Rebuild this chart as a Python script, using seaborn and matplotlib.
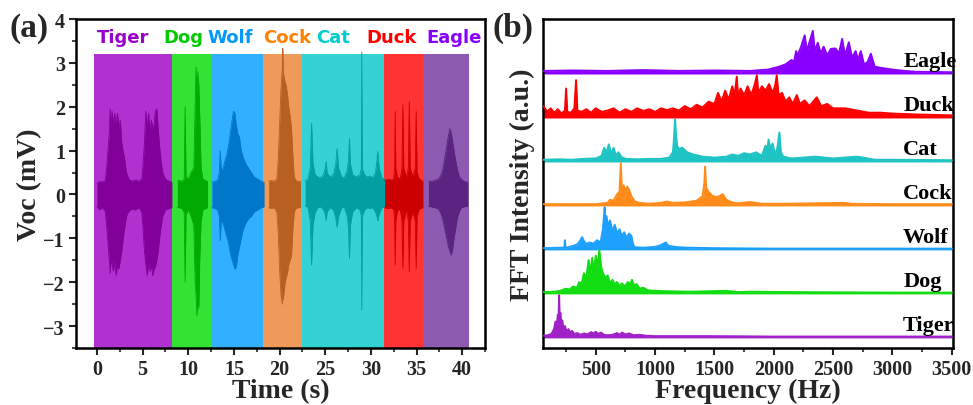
import matplotlib
matplotlib.use("Agg")
import matplotlib.pyplot as plt
from matplotlib.ticker import MultipleLocator, NullLocator
import seaborn as sns

# ---------------- panel (a): voltage waveforms ----------------
animals = ["Tiger", "Dog", "Wolf", "Cock", "Cat", "Duck", "Eagle"]

band_start = [-0.3, 8.25, 12.5, 18.2, 22.4, 31.45, 35.7]
band_end = [8.25, 12.5, 18.2, 22.4, 31.45, 35.7, 40.7]
band_top = 3.2

label_t = [2.9, 9.5, 14.6, 20.8, 25.9, 32.3, 39.1]
label_v = 3.6

tiger_t = [0.0, 0.3, 0.6, 0.9, 1.05, 1.2, 1.35, 1.45, 1.55, 1.65, 1.8, 1.95, 2.1, 2.25, 2.4, 2.55, 2.7, 2.85,
           3.0, 3.15, 3.3, 3.5, 3.8, 4.2, 4.6, 4.9, 5.05, 5.2, 5.35, 5.5, 5.65, 5.8, 5.95, 6.1, 6.25, 6.4,
           6.55, 6.7, 6.85, 7.0, 7.2, 7.5, 7.9, 8.2]
tiger_hi = [0.25, 0.3, 0.28, 0.32, 0.6, 1.0, 1.4, 1.95, 1.5, 1.9, 1.6, 1.85, 1.55, 1.85, 1.5, 1.7, 1.2, 1.0,
            0.85, 0.6, 0.45, 0.35, 0.3, 0.33, 0.3, 0.35, 0.7, 1.2, 1.9, 1.5, 1.85, 1.4, 1.7, 1.5, 1.6, 1.9,
            1.95, 1.5, 1.1, 0.8, 0.5, 0.35, 0.3, 0.28]
tiger_lo = [-0.28, -0.35, -0.3, -0.38, -0.7, -1.1, -1.5, -1.8, -1.4, -1.6, -1.75, -1.5, -1.85, -1.6, -1.7,
            -1.5, -1.3, -1.05, -0.8, -0.6, -0.45, -0.38, -0.33, -0.35, -0.3, -0.4, -0.8, -1.3, -1.6, -1.85,
            -1.55, -1.75, -1.6, -1.85, -1.7, -1.65, -1.5, -1.3, -1.0, -0.75, -0.5, -0.35, -0.32, -0.3]

dog_t = [8.8, 9.0, 9.3, 9.55, 9.65, 9.75, 10.0, 10.3, 10.6, 10.75, 10.85, 10.95, 11.05, 11.15, 11.25, 11.4,
         11.6, 11.9, 12.1]
dog_hi = [0.3, 0.32, 0.3, 0.35, 2.0, 0.4, 0.35, 0.5, 0.6, 2.0, 2.9, 2.3, 2.8, 2.5, 1.8, 0.6, 0.35, 0.32, 0.3]
dog_lo = [-0.3, -0.3, -0.32, -0.4, -2.0, -0.45, -0.35, -0.5, -0.7, -2.0, -2.3, -2.76, -2.4, -2.6, -1.5, -0.6,
          -0.35, -0.32, -0.3]

wolf_t = [12.6, 12.9, 13.2, 13.4, 13.5, 13.6, 13.8, 14.0, 14.2, 14.4, 14.6, 14.8, 14.95, 15.1, 15.25, 15.4,
          15.6, 15.8, 16.0, 16.3, 16.6, 16.9, 17.2, 17.6, 18.0, 18.3]
wolf_hi = [0.28, 0.3, 0.32, 0.5, 1.0, 0.55, 0.6, 0.75, 0.9, 1.1, 1.4, 1.7, 1.9, 1.85, 1.6, 1.4, 1.3, 1.0,
           0.85, 0.7, 0.6, 0.5, 0.4, 0.35, 0.3, 0.28]
wolf_lo = [-0.3, -0.32, -0.35, -0.5, -1.05, -0.6, -0.65, -0.8, -0.95, -1.1, -1.35, -1.5, -1.6, -1.7, -1.65,
           -1.4, -1.2, -1.0, -0.8, -0.65, -0.55, -0.5, -0.4, -0.35, -0.3, -0.28]

cock_t = [18.8, 19.1, 19.4, 19.7, 19.85, 20.0, 20.15, 20.3, 20.35, 20.4, 20.55, 20.7, 20.85, 21.0, 21.15,
          21.3, 21.45, 21.6, 21.8, 22.0, 22.3]
cock_hi = [0.3, 0.32, 0.3, 0.35, 0.8, 1.6, 2.4, 2.9, 3.33, 2.8, 2.6, 2.5, 2.3, 2.0, 1.8, 1.5, 0.9, 0.4,
           0.32, 0.3, 0.3]
cock_lo = [-0.3, -0.32, -0.3, -0.4, -0.9, -1.7, -2.3, -2.5, -2.2, -2.4, -2.1, -1.9, -1.8, -1.6, -1.5, -1.4,
           -0.8, -0.4, -0.32, -0.3, -0.3]

cat_t = [22.8, 23.1, 23.35, 23.5, 23.65, 23.9, 24.2, 24.5, 24.8, 25.0, 25.1, 25.2, 25.5, 25.9, 26.15, 26.3,
         26.45, 26.8, 27.1, 27.4, 27.55, 27.65, 27.75, 28.0, 28.4, 28.8, 28.95, 29.0, 29.05, 29.3, 29.6, 29.9,
         30.2, 30.5, 30.65, 30.75, 30.9, 31.2, 31.5]
cat_hi = [0.3, 0.35, 0.6, 1.62, 0.7, 0.45, 0.4, 0.38, 0.45, 0.6, 0.75, 0.5, 0.4, 0.45, 0.7, 1.05, 0.6, 0.4,
          0.38, 0.55, 0.8, 1.28, 0.7, 0.45, 0.4, 0.45, 0.6, 3.25, 0.6, 0.45, 0.4, 0.42, 0.38, 0.5, 0.75, 0.98,
          0.6, 0.38, 0.35]
cat_lo = [-0.25, -0.3, -0.6, -1.61, -0.7, -0.4, -0.3, -0.28, -0.35, -0.45, -0.6, -0.4, -0.3, -0.35, -0.55,
          -0.75, -0.5, -0.3, -0.3, -0.5, -0.8, -1.46, -0.7, -0.4, -0.3, -0.35, -0.5, -2.64, -0.5, -0.35, -0.3,
          -0.32, -0.3, -0.4, -0.5, -0.6, -0.45, -0.3, -0.28]

duck_t = [31.5, 31.9, 32.2, 32.5, 32.6, 32.66, 32.72, 32.9, 33.2, 33.4, 33.5, 33.6, 33.9, 34.1, 34.2, 34.3,
          34.6, 34.85, 34.96, 35.05, 35.3, 35.7]
duck_hi = [0.32, 0.35, 0.33, 0.35, 0.6, 1.89, 0.6, 0.4, 0.35, 0.6, 2.04, 0.6, 0.38, 0.6, 2.12, 0.6, 0.4,
           0.6, 1.89, 0.5, 0.35, 0.3]
duck_lo = [-0.3, -0.32, -0.3, -0.35, -0.6, -1.61, -0.6, -0.38, -0.33, -0.6, -1.69, -0.6, -0.35, -0.6, -1.76,
           -0.6, -0.4, -0.6, -1.69, -0.5, -0.33, -0.3]

eagle_t = [36.3, 36.6, 37.0, 37.4, 37.7, 37.9, 38.1, 38.3, 38.5, 38.65, 38.8, 38.95, 39.1, 39.3, 39.5, 39.7,
           39.9, 40.2, 40.6]
eagle_hi = [0.3, 0.3, 0.32, 0.35, 0.45, 0.6, 0.85, 1.1, 1.35, 1.5, 1.4, 1.2, 1.0, 0.75, 0.55, 0.4, 0.35,
            0.3, 0.28]
eagle_lo = [-0.27, -0.28, -0.3, -0.33, -0.45, -0.6, -0.8, -1.0, -1.2, -1.3, -1.38, -1.25, -1.0, -0.75, -0.5,
            -0.38, -0.3, -0.28, -0.27]

wave_t = [tiger_t, dog_t, wolf_t, cock_t, cat_t, duck_t, eagle_t]
wave_hi = [tiger_hi, dog_hi, wolf_hi, cock_hi, cat_hi, duck_hi, eagle_hi]
wave_lo = [tiger_lo, dog_lo, wolf_lo, cock_lo, cat_lo, duck_lo, eagle_lo]

band_colors = ["#B030D0", "#33E333", "#33AFFF", "#F09A5A", "#33D3D3", "#FF3333", "#8C5AB0"]
wave_colors = ["#800099", "#00AA00", "#0077C8", "#B8601F", "#00A0A0", "#CC0000", "#5A2480"]
label_colors = ["#9900CC", "#00CC00", "#0099FF", "#FF8000", "#00CCCC", "#FF0000", "#8800FF"]

# ---------------- panel (b): FFT spectra ----------------
tiger_f = [60, 100, 130, 150, 160, 170, 180, 186, 191, 196, 202, 210, 218, 226, 240, 255, 270, 285, 300, 320,
           345, 370, 400, 430, 460, 480, 500, 520, 545, 570, 600, 640, 680, 700, 720, 750, 780, 820, 870, 920,
           1000, 1200, 1500, 2000, 2500, 3000, 3500]
tiger_a = [0.03, 0.04, 0.08, 0.2, 0.35, 0.25, 0.5, 0.4, 0.95, 0.45, 0.55, 0.3, 0.38, 0.2, 0.25, 0.12, 0.18,
           0.1, 0.14, 0.07, 0.09, 0.05, 0.08, 0.06, 0.11, 0.08, 0.12, 0.07, 0.1, 0.05, 0.04, 0.05, 0.09, 0.05,
           0.1, 0.06, 0.08, 0.04, 0.05, 0.03, 0.02, 0.02, 0.02, 0.01, 0.01, 0.01, 0.01]

dog_f = [60, 150, 200, 250, 280, 310, 340, 360, 380, 400, 420, 440, 455, 470, 485, 500, 515, 530, 545, 560,
         580, 600, 620, 640, 660, 680, 700, 720, 745, 770, 790, 805, 820, 845, 870, 900, 940, 1000, 1100, 1300,
         1600, 1700, 1800, 2200, 3000, 3500]
dog_a = [0.02, 0.03, 0.05, 0.1, 0.08, 0.15, 0.12, 0.25, 0.2, 0.45, 0.35, 0.75, 0.45, 0.8, 0.5, 0.85, 0.55,
         0.98, 0.6, 0.45, 0.35, 0.4, 0.22, 0.3, 0.2, 0.25, 0.15, 0.22, 0.15, 0.25, 0.2, 0.3, 0.18, 0.2, 0.1,
         0.12, 0.06, 0.05, 0.04, 0.03, 0.05, 0.02, 0.03, 0.02, 0.01, 0.01]

wolf_f = [60, 200, 235, 240, 245, 280, 320, 350, 370, 385, 400, 420, 450, 480, 510, 540, 560, 575, 580, 590,
          605, 620, 640, 660, 680, 700, 720, 740, 760, 780, 800, 815, 830, 900, 1000, 1040, 1070, 1090, 1110,
          1140, 1200, 1300, 1500, 2000, 3500]
wolf_a = [0.02, 0.03, 0.03, 0.2, 0.03, 0.05, 0.08, 0.12, 0.2, 0.27, 0.18, 0.12, 0.15, 0.12, 0.2, 0.15, 0.45,
          0.95, 0.6, 0.75, 0.5, 0.65, 0.4, 0.55, 0.35, 0.45, 0.3, 0.38, 0.25, 0.35, 0.3, 0.1, 0.04, 0.03, 0.05,
          0.08, 0.12, 0.15, 0.08, 0.06, 0.04, 0.03, 0.02, 0.01, 0.01]

cock_f = [60, 300, 500, 600, 620, 650, 680, 700, 711, 720, 735, 750, 765, 780, 800, 830, 870, 950, 1050, 1100,
          1150, 1250, 1350, 1400, 1415, 1421, 1430, 1450, 1480, 1510, 1540, 1570, 1600, 1650, 1700, 1800, 1850,
          1900, 2100, 2600, 2650, 3000, 3500]
cock_a = [0.02, 0.02, 0.02, 0.05, 0.12, 0.1, 0.25, 0.3, 0.95, 0.35, 0.45, 0.3, 0.42, 0.35, 0.2, 0.08, 0.05,
          0.03, 0.05, 0.08, 0.05, 0.06, 0.1, 0.2, 0.5, 0.87, 0.4, 0.3, 0.22, 0.18, 0.2, 0.25, 0.12, 0.06, 0.04,
          0.07, 0.05, 0.03, 0.03, 0.05, 0.03, 0.02, 0.02]

cat_f = [60, 200, 300, 400, 500, 550, 570, 590, 610, 630, 650, 670, 690, 720, 760, 850, 950, 1050, 1120, 1150,
         1160, 1168, 1176, 1185, 1200, 1230, 1270, 1320, 1400, 1500, 1600, 1650, 1700, 1750, 1800, 1850, 1900,
         1930, 1945, 1956, 1970, 1990, 2010, 2030, 2047, 2060, 2080, 2150, 2250, 2350, 2500, 2600, 2700, 2750,
         2850, 3000, 3500]
cat_a = [0.03, 0.04, 0.03, 0.05, 0.06, 0.12, 0.3, 0.2, 0.38, 0.15, 0.3, 0.12, 0.2, 0.08, 0.05, 0.04, 0.05,
         0.05, 0.08, 0.2, 0.55, 0.95, 0.6, 0.35, 0.28, 0.3, 0.2, 0.15, 0.1, 0.08, 0.1, 0.15, 0.12, 0.18, 0.15,
         0.2, 0.12, 0.35, 0.25, 0.49, 0.3, 0.4, 0.15, 0.3, 0.65, 0.2, 0.1, 0.06, 0.08, 0.1, 0.06, 0.08, 0.1,
         0.08, 0.03, 0.03, 0.02]

duck_f = [60, 90, 120, 150, 180, 210, 240, 250, 260, 290, 320, 334, 345, 380, 420, 460, 500, 550, 600, 650,
          700, 750, 800, 850, 900, 950, 1000, 1050, 1100, 1150, 1200, 1250, 1300, 1350, 1400, 1450, 1500, 1530,
          1560, 1590, 1620, 1650, 1670, 1688, 1700, 1720, 1750, 1780, 1810, 1840, 1857, 1870, 1900, 1930, 1960,
          1990, 2010, 2025, 2040, 2070, 2100, 2130, 2160, 2194, 2220, 2260, 2300, 2330, 2362, 2400, 2450, 2500,
          2600, 2700, 2800, 2900, 3000, 3200, 3500]
duck_a = [0.25, 0.12, 0.2, 0.1, 0.18, 0.08, 0.15, 0.65, 0.12, 0.1, 0.2, 0.84, 0.15, 0.12, 0.18, 0.1, 0.2,
          0.12, 0.15, 0.2, 0.1, 0.18, 0.12, 0.2, 0.14, 0.18, 0.12, 0.2, 0.16, 0.2, 0.15, 0.25, 0.18, 0.28, 0.22,
          0.35, 0.3, 0.55, 0.35, 0.6, 0.4, 0.7, 0.5, 0.92, 0.45, 0.65, 0.5, 0.7, 0.5, 0.75, 0.95, 0.55, 0.7,
          0.6, 0.75, 0.55, 0.7, 0.95, 0.5, 0.55, 0.35, 0.45, 0.3, 0.5, 0.3, 0.38, 0.25, 0.35, 0.45, 0.25, 0.3,
          0.2, 0.2, 0.15, 0.1, 0.1, 0.08, 0.06, 0.04]

eagle_f = [60, 300, 600, 900, 1200, 1500, 1800, 1950, 2050, 2100, 2150, 2170, 2188, 2200, 2230, 2260, 2280,
           2300, 2329, 2345, 2370, 2395, 2420, 2450, 2480, 2520, 2550, 2576, 2600, 2632, 2660, 2690, 2710, 2733,
           2760, 2790, 2818, 2850, 2900, 2950, 3000, 3100, 3200, 3500]
eagle_a = [0.05, 0.06, 0.05, 0.07, 0.05, 0.06, 0.05, 0.08, 0.15, 0.2, 0.3, 0.25, 0.5, 0.4, 0.6, 0.86, 0.5,
           0.7, 0.96, 0.5, 0.69, 0.45, 0.6, 0.4, 0.55, 0.56, 0.45, 0.78, 0.4, 0.7, 0.35, 0.5, 0.3, 0.5, 0.2,
           0.25, 0.44, 0.15, 0.12, 0.1, 0.08, 0.05, 0.03, 0.02]

spec_f = [tiger_f, dog_f, wolf_f, cock_f, cat_f, duck_f, eagle_f]
spec_a = [tiger_a, dog_a, wolf_a, cock_a, cat_a, duck_a, eagle_a]
spec_offsets = [0.25, 1.25, 2.25, 3.25, 4.25, 5.25, 6.25]
spec_colors = ["#A020C8", "#11DD11", "#1EA0FF", "#FF8C1A", "#1EC3C3", "#FF0000", "#8A00FF"]

# ---------------- style ----------------
sns.set_style("ticks")
plt.rcParams["font.family"] = ["Liberation Serif", "DejaVu Serif"]
plt.rcParams["font.weight"] = "bold"
plt.rcParams["axes.labelweight"] = "bold"
plt.rcParams["axes.linewidth"] = 1.8
plt.rcParams["axes.edgecolor"] = "black"

fig = plt.figure(figsize=(9.73, 4.06), dpi=100)
ax1 = fig.add_axes([0.0781, 0.1404, 0.4204, 0.8103])
ax2 = fig.add_axes([0.5584, 0.1404, 0.4208, 0.8103])

# panel (a)
ylo = -3.5
for i, name in enumerate(animals):
    ax1.fill_between([band_start[i], band_end[i]], ylo, band_top, color=band_colors[i], lw=0, zorder=1)
    ax1.fill_between(wave_t[i], wave_lo[i], wave_hi[i], color=wave_colors[i], lw=0, zorder=2)
    sns.lineplot(x=wave_t[i], y=wave_hi[i], ax=ax1, color=wave_colors[i], lw=0.6,
                 sort=False, estimator=None, zorder=3)
    sns.lineplot(x=wave_t[i], y=wave_lo[i], ax=ax1, color=wave_colors[i], lw=0.6,
                 sort=False, estimator=None, zorder=3)
    ax1.text(label_t[i], label_v, name, color=label_colors[i], ha="center", va="center",
             fontsize=13, fontweight="bold", family=["DejaVu Sans"])

ax1.set_xlim(-2.3, 42.5)
ax1.set_ylim(-3.5, 4.0)
ax1.xaxis.set_major_locator(MultipleLocator(5))
ax1.xaxis.set_minor_locator(MultipleLocator(2.5))
ax1.yaxis.set_major_locator(MultipleLocator(1))
ax1.yaxis.set_minor_locator(MultipleLocator(0.5))
ax1.set_yticks([-3, -2, -1, 0, 1, 2, 3, 4])
ax1.set_xlabel("Time (s)", fontsize=20, labelpad=-1)
ax1.set_ylabel("Voc (mV)", fontsize=20, labelpad=1)

# panel (b)
for i, name in enumerate(animals):
    base = spec_offsets[i]
    top = [base + a for a in spec_a[i]]
    ax2.fill_between(spec_f[i], base - 0.02, top, color=spec_colors[i], lw=0, zorder=2)
    sns.lineplot(x=spec_f[i], y=top, ax=ax2, color=spec_colors[i], lw=1.4,
                 sort=False, estimator=None, zorder=3)
    ax2.text(3090, base + 0.27, name, color="black", ha="left", va="center", fontsize=16,
             fontweight="bold")

ax2.set_xlim(58, 3508)
ax2.set_ylim(0, 7.48)
ax2.xaxis.set_major_locator(MultipleLocator(500))
ax2.xaxis.set_minor_locator(MultipleLocator(250))
ax2.set_xticks([500, 1000, 1500, 2000, 2500, 3000, 3500])
ax2.yaxis.set_major_locator(NullLocator())
ax2.yaxis.set_minor_locator(NullLocator())
ax2.set_xlabel("Frequency (Hz)", fontsize=20, labelpad=-1)
ax2.set_ylabel("FFT Intensity (a.u.)", fontsize=20, labelpad=6)

for ax in (ax1, ax2):
    for s in ax.spines.values():
        s.set_visible(True)
        s.set_linewidth(1.8)
    ax.tick_params(which="major", direction="out", length=5, width=1.5, labelsize=14.5, pad=3)
    ax.tick_params(which="minor", direction="out", length=3, width=1.2)
    for lab in ax.get_xticklabels() + ax.get_yticklabels():
        lab.set_fontweight("bold")

fig.text(0.010, 0.93, "(a)", fontsize=24, fontweight="bold", ha="left", va="center")
fig.text(0.506, 0.93, "(b)", fontsize=24, fontweight="bold", ha="left", va="center")

fig.savefig("out.png", dpi=100)
